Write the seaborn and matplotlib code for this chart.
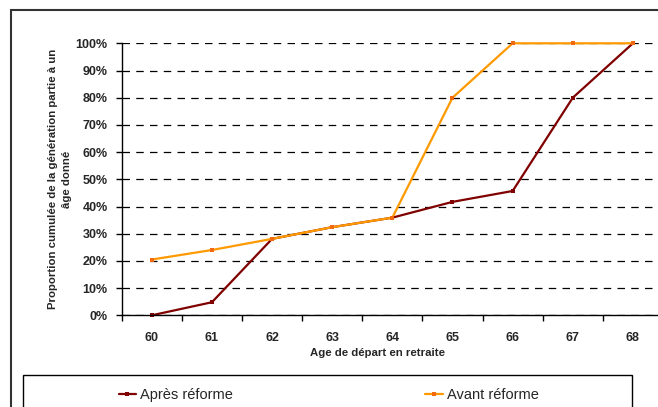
import matplotlib
matplotlib.use("Agg")
import matplotlib.pyplot as plt
import matplotlib.patches as mpatches
from matplotlib.ticker import FixedLocator, FuncFormatter, NullFormatter
import seaborn as sns
import pandas as pd

ages = [60, 61, 62, 63, 64, 65, 66, 67, 68]
apres = [0.0, 4.8, 28.1, 32.4, 35.9, 41.7, 45.7, 80.0, 100.0]
avant = [20.5, 24.0, 28.1, 32.4, 35.9, 80.0, 100.0, 100.0, 100.0]
series_names = ["Après réforme", "Avant réforme"]
colors = {"Après réforme": "#800000", "Avant réforme": "#FF9900"}
marker_colors = {"Après réforme": "#800000", "Avant réforme": "#F26A10"}
yticks = list(range(0, 101, 10))
xlabel = "Age de départ en retraite"
ylabel = "Proportion cumulée de la génération partie à un\nâge donné"

sns.set_theme(style="white")
plt.rcParams["font.family"] = ["Liberation Sans", "DejaVu Sans"]

df = pd.DataFrame({
    "age": ages * 2,
    "val": apres + avant,
    "serie": [series_names[0]] * len(ages) + [series_names[1]] * len(ages),
})

W, H = 658, 407
fig = plt.figure(figsize=(W / 100, H / 100), dpi=100)
left, right, top, bottom = 121.7, 663.0, 43.3, 315.3
ax = fig.add_axes([left / W, 1 - bottom / H, (right - left) / W, (bottom - top) / H])

sns.lineplot(data=df, x="age", y="val", hue="serie", hue_order=series_names,
             palette=colors, marker="s", markersize=3.2, markeredgewidth=0,
             linewidth=1.6, ax=ax, legend=False)
for line, name in zip(ax.lines, series_names):
    line.set_markerfacecolor(marker_colors[name])
    line.set_clip_on(False)

ax.set_xlim(ages[0] - 0.5, ages[-1] + 0.5)
ax.set_ylim(0, 100)

# y axis
ax.yaxis.set_major_locator(FixedLocator(yticks))
ax.yaxis.set_major_formatter(FuncFormatter(lambda v, p: f"{v:.0f}%"))
ax.tick_params(axis="y", which="major", left=True, length=4, width=1, color="black",
               pad=6, labelsize=9)
for t in ax.get_yticklabels():
    t.set_fontweight("bold")

# x axis: ticks between categories, labels at centers
ax.xaxis.set_major_locator(FixedLocator([a - 0.5 for a in ages] + [ages[-1] + 0.5]))
ax.xaxis.set_major_formatter(NullFormatter())
ax.xaxis.set_minor_locator(FixedLocator(ages))
ax.xaxis.set_minor_formatter(FuncFormatter(lambda v, p: f"{v:.0f}"))
ax.tick_params(axis="x", which="major", bottom=True, length=4, width=1, color="black")
ax.tick_params(axis="x", which="minor", bottom=True, length=0, pad=12, labelsize=9)
for t in ax.get_xticklabels(minor=True):
    t.set_fontweight("bold")

ax.set_xlabel("")
ax.set_ylabel("")

ax.grid(False)
ax.yaxis.grid(True, which="major", color="black", linestyle=(0, (6, 5)), linewidth=0.9)
ax.set_axisbelow(True)

for s in ["top", "right"]:
    ax.spines[s].set_visible(False)
for s in ["left", "bottom"]:
    ax.spines[s].set_color("black")
    ax.spines[s].set_linewidth(1.0)

fig.text(377.5 / W, 1 - 353 / H, xlabel, ha="center", va="center",
         fontsize=8.2, fontweight="bold")
fig.text(60 / W, 1 - 179 / H, ylabel, ha="center", va="center", rotation=90,
         fontsize=8.2, fontweight="bold", multialignment="center", linespacing=1.6)

# outer frame and legend box
fig.patches.append(mpatches.Rectangle((10.5 / W, -0.2), 1.3, 0.2 + 1 - 10 / H,
                                      transform=fig.transFigure, fill=False,
                                      edgecolor="#333333", linewidth=1.5))
fig.patches.append(mpatches.Rectangle((22.7 / W, -0.2), (632.3 - 22.7) / W, 0.2 + 1 - 374.5 / H,
                                      transform=fig.transFigure, fill=False,
                                      edgecolor="black", linewidth=1.0))

centers = [176 / W, 482 / W]
for line, name, cx in zip(ax.lines, series_names, centers):
    fig.legend([line], [name], loc="center", bbox_to_anchor=(cx, 1 - 395 / H),
               bbox_transform=fig.transFigure, frameon=False, fontsize=10.5,
               handlelength=1.2, handletextpad=0.3, borderpad=0, markerscale=1.0)

fig.savefig("out.png", dpi=100)
